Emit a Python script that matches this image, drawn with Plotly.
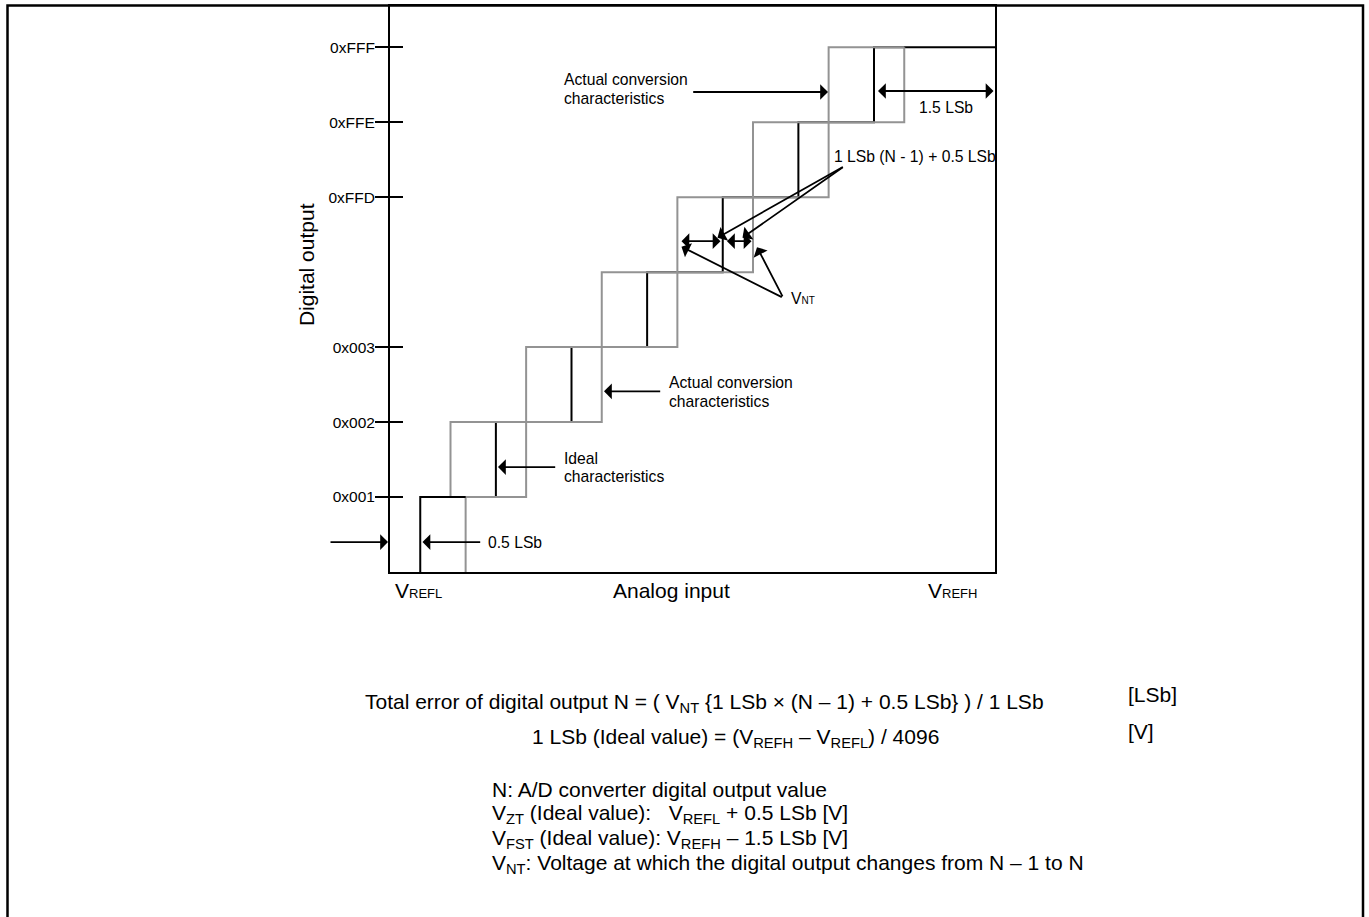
import plotly.graph_objects as go

# ---------------- data ----------------
code_positions = [1, 2, 3, 5, 6, 7]
code_labels = ["0x001", "0x002", "0x003", "0xFFD", "0xFFE", "0xFFF"]
levels = [0, 1, 2, 3, 4, 5, 6, 7]               # output code index (4 = N-1, unlabelled)
ideal_transitions = [0.4, 1.4, 2.4, 3.4, 4.4, 5.4, 6.4]        # analog input [LSb]
actual_min_transitions = [0.4, 0.8, 1.8, 2.8, 3.8, 4.8, 5.8]
actual_max_transitions = [1.0, 1.8, 2.8, 3.8, 4.8, 5.8, 6.8]
x_full_scale = 8.0
y_top = 7.55

# ---------------- geometry ----------------
W, H = 1369, 917
PL, PR, PT, PB = 390, 995, 4, 572
FONT = "Liberation Sans, Arial, sans-serif"
BLACK = "#000000"
GRAY = "#939393"


def fx(px):
    return (px - PL) / (PR - PL)


def fy(py):
    return (PB - py) / (PB - PT)


fig = go.Figure()

# ideal characteristic (black staircase)
fig.add_trace(go.Scatter(
    x=ideal_transitions + [x_full_scale], y=levels[:7] + [levels[7]],
    mode="lines", line=dict(color=BLACK, width=2, shape="vh"),
    hoverinfo="skip", showlegend=False))
# actual conversion characteristics: right edge staircase
fig.add_trace(go.Scatter(
    x=actual_max_transitions + [actual_max_transitions[-1]], y=levels[:7] + [levels[7]],
    mode="lines", line=dict(color=GRAY, width=2, shape="vh"),
    hoverinfo="skip", showlegend=False))
# actual conversion characteristics: left edge staircase
fig.add_trace(go.Scatter(
    x=actual_min_transitions[1:] + [actual_max_transitions[-1]], y=levels[1:7] + [levels[7]],
    mode="lines", line=dict(color=GRAY, width=2, shape="vh"),
    hoverinfo="skip", showlegend=False))
# first code box top edge (black)
fig.add_trace(go.Scatter(
    x=[actual_min_transitions[0], actual_max_transitions[0]], y=[levels[1], levels[1]],
    mode="lines", line=dict(color=BLACK, width=2),
    hoverinfo="skip", showlegend=False))
# carrier trace for the inside-tick overlay axis
fig.add_trace(go.Scatter(x=[0], y=[0], yaxis="y2", mode="markers",
                         marker=dict(opacity=0), hoverinfo="skip", showlegend=False))

annotations = []


def text(px, py, s, size=15.7, xanchor="left", angle=0):
    annotations.append(dict(
        xref="paper", yref="paper", x=fx(px), y=fy(py), text=s, showarrow=False,
        xanchor=xanchor, yanchor="middle", textangle=angle,
        font=dict(family=FONT, size=size, color=BLACK)))


def arrow(tail, head, both=False):
    annotations.append(dict(
        xref="paper", yref="paper", x=fx(head[0]), y=fy(head[1]),
        axref="pixel", ayref="pixel", ax=tail[0] - head[0], ay=tail[1] - head[1],
        text="", showarrow=True, arrowhead=1, arrowsize=1.45, arrowwidth=1.8,
        arrowcolor=BLACK, arrowside="end+start" if both else "end",
        startarrowhead=1, startarrowsize=1.45))


# texts inside the chart
text(561.7, 77.7, "Actual conversion")
text(561.7, 96.5, "characteristics")
text(917, 106, "1.5 LSb")
text(832.3, 155, "1 LSb (N - 1) + 0.5 LSb")
text(789.3, 298, "V<span style='font-size:10px'>NT</span>")
text(667.3, 381.7, "Actual conversion")
text(667.3, 400.5, "characteristics")
text(561.7, 457.7, "Ideal")
text(561.7, 476.5, "characteristics")
text(486, 542, "0.5 LSb")
text(306, 264, "Digital output", size=21, xanchor="center", angle=-90)
text(671, 591, "Analog input", size=21, xanchor="center")
text(392.7, 591, "V<span style='font-size:13px'>REFL</span>", size=21)
text(926, 591, "V<span style='font-size:13px'>REFH</span>", size=21)

# arrows
arrow((691.7, 90.3), (828, 90.3))
arrow((876.5, 89.3), (993.5, 89.3), both=True)
arrow((661.7, 390.7), (604, 390.7))
arrow((556.7, 466.7), (498, 466.7))
arrow((481.7, 542), (422.5, 542))
arrow((329, 542), (388, 542))
arrow((680, 240), (720.5, 240), both=True)
arrow((725.5, 240), (751.5, 240), both=True)
arrow((844.3, 165), (717.5, 236.5))
arrow((844.3, 165), (742.5, 236.5))
arrow((783.3, 296.7), (681.5, 245.5))
arrow((783.3, 296.7), (757, 246))

# formulas / notes below
NB = "\u00a0"
text(363, 703.3, "Total error of digital output N = ( V<sub>NT</sub> {1 LSb × (N – 1) + 0.5 LSb} ) / 1 LSb", size=21)
text(1126, 695, "[LSb]", size=21)
text(529.6, 738.3, "1 LSb (Ideal value) = (V<sub>REFH</sub> – V<sub>REFL</sub>) / 4096", size=21)
text(1126, 731.7, "[V]", size=21)
text(489.8, 790, "N: A/D converter digital output value", size=21)
text(489.8, 815, "V<sub>ZT</sub> (Ideal value):" + NB * 3 + "V<sub>REFL</sub> + 0.5 LSb [V]", size=21)
text(489.8, 840, "V<sub>FST</sub> (Ideal value): V<sub>REFH</sub> – 1.5 LSb [V]", size=21)
text(489.8, 865, "V<sub>NT</sub>: Voltage at which the digital output changes from N – 1 to N", size=21)

# outer frame
shapes = [dict(type="rect", xref="paper", yref="paper",
               x0=fx(7.5), x1=fx(1363), y0=fy(940), y1=fy(3.5),
               line=dict(color=BLACK, width=2.5), fillcolor="rgba(0,0,0,0)", layer="above")]

fig.update_layout(
    width=W, height=H,
    margin=dict(l=PL, r=W - PR, t=PT, b=H - PB, pad=0),
    paper_bgcolor="white", plot_bgcolor="white",
    showlegend=False,
    font=dict(family=FONT, size=15.7, color=BLACK),
    xaxis=dict(range=[0, x_full_scale], showline=True, linecolor=BLACK, linewidth=2,
               mirror=True, showticklabels=False, ticks="", showgrid=False, zeroline=False,
               fixedrange=True),
    yaxis=dict(range=[0, y_top], showline=True, linecolor=BLACK, linewidth=2, mirror=True,
               tickmode="array", tickvals=code_positions, ticktext=code_labels,
               ticks="outside", ticklen=13, tickwidth=2, tickcolor=BLACK,
               ticklabelstandoff=-3,
               tickfont=dict(family=FONT, size=15.5, color=BLACK),
               showgrid=False, zeroline=False, fixedrange=True),
    yaxis2=dict(range=[0, y_top], overlaying="y", anchor="x", side="left",
                tickmode="array", tickvals=code_positions, ticks="inside", ticklen=13,
                tickwidth=2, tickcolor=BLACK, showticklabels=False, showline=False,
                showgrid=False, zeroline=False, fixedrange=True),
    annotations=annotations,
    shapes=shapes,
)

fig.write_html("out.html", config={"displayModeBar": False},
               post_script="document.body.style.margin='0';document.body.style.overflow='hidden';")
